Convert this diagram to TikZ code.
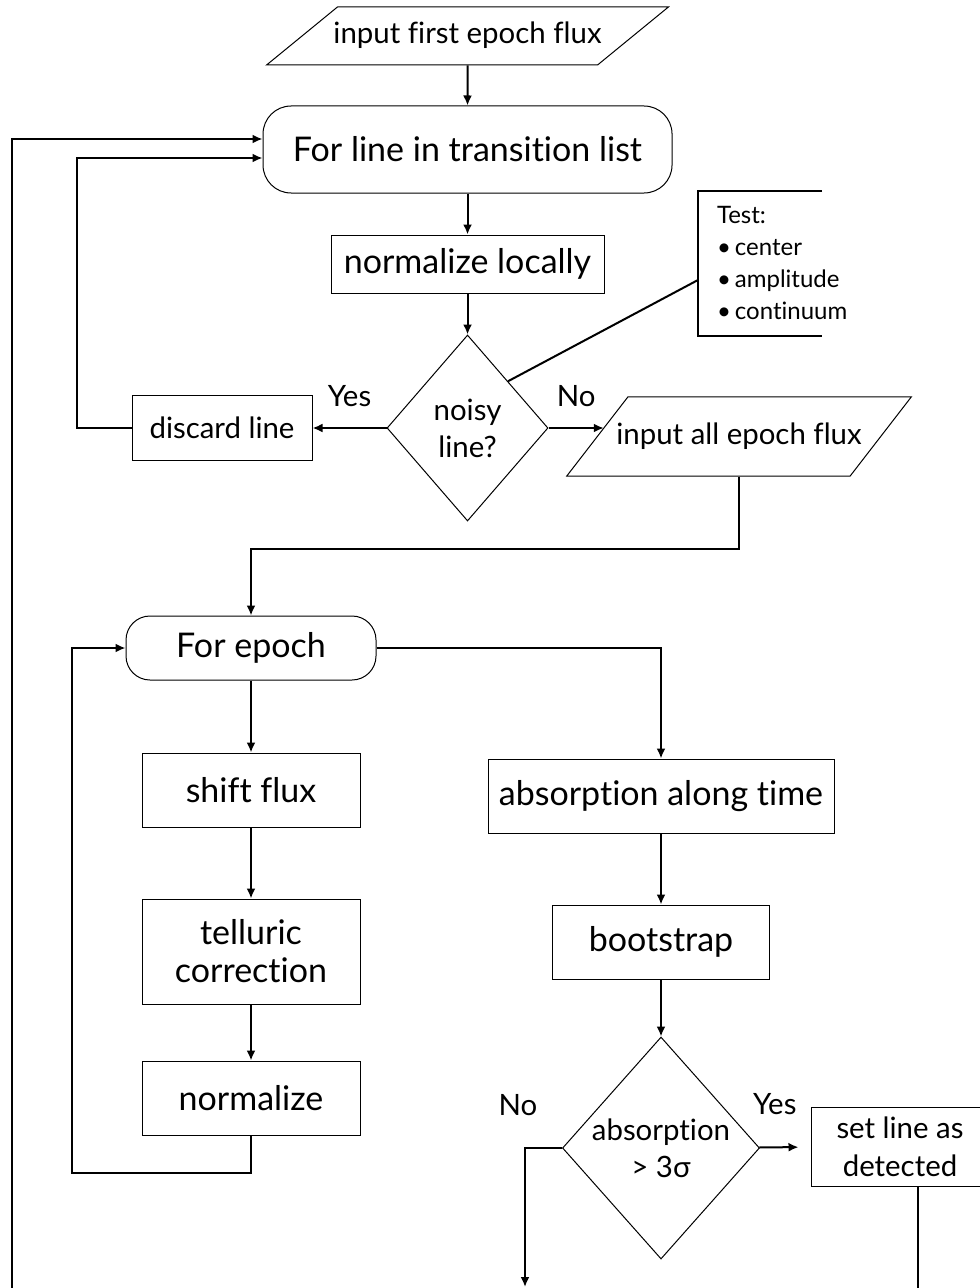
\documentclass[tikz,border=0pt]{standalone}
\usepackage{fontspec}
\setmainfont[Ligatures=NoCommon]{Lato}
\usepackage{tikz}
\usetikzlibrary {shapes.geometric}
\usetikzlibrary {positioning}
\usetikzlibrary {arrows.meta}

\begin{document}
\begin{tikzpicture}[x=0.5pt, y=-0.5pt, line width=1pt, >={Latex[length=5pt,width=4.5pt]},
  box/.style={rectangle, draw, line width=0.5pt, align=center, inner sep=0pt, font=\fontsize{17}{19}\selectfont},
  rbox/.style={box, rounded corners=14pt},
  io/.style={trapezium, draw, line width=0.5pt, trapezium stretches=true, text height=11pt, text depth=3pt, font=\fontsize{14.7}{19}\selectfont},
  decision/.style={diamond, draw, line width=0.5pt, align=center, inner sep=0pt, font=\fontsize{14.7}{18.5}\selectfont},
  lbl/.style={inner sep=0pt, font=\fontsize{14.7}{19}\selectfont}]
\useasboundingbox (0,0) rectangle (979,1288);

%line loop
\node [io, trapezium left angle=39.3, trapezium right angle=140.7, inner xsep=-2pt, inner ysep=7.5pt] (flux1) at (467.5,36) {input first epoch flux};
\node [rbox, minimum width=204.5pt, minimum height=43.5pt] (forline) [below=20pt of flux1] {For line in transition list};
\draw [->] (flux1) to (forline);

\node [box, minimum width=136.5pt, minimum height=29pt] (normloc) [below=20.5pt of forline] {normalize locally};
\draw [->] (forline) to (normloc);

\node [decision, minimum width=80.5pt, minimum height=93pt] (noisy) [below=20.5pt of normloc] {noisy\\line?};
\draw [->] (normloc) to (noisy);

%tests
\node [anchor=west, align=left, text width=43pt, inner xsep=9pt, inner ysep=0pt, minimum height=71.5pt, font=\fontsize{12}{16}\selectfont] (test) at (698,263.5) {Test:\\\textbullet\,center\\\textbullet\,amplitude\\\textbullet\,continuum};
\draw (test.north east) -- (test.north west) -- (test.south west) -- (test.south east);
\draw (noisy.north east) to ([yshift=-8.25pt]test.west);

\node [box, font=\fontsize{14.7}{19}\selectfont, minimum width=90pt, minimum height=32.5pt] (discard) [left=37pt of noisy] {discard line};
\draw [->] (noisy) to node [lbl, yshift=16pt] (yes1) {Yes} (discard);
\draw [->] (discard.west) -- ++(-55,0) |- ([yshift=-4.25pt]forline.west);

\coordinate (outerend) at (12,1292);
\draw [->] (outerend) |- ([yshift=5.25pt]forline.west);

\node [io, trapezium left angle=52.3, trapezium right angle=127.7, inner xsep=-5.75pt, inner ysep=12.75pt] (flux2) at (739,436.5) {input all epoch flux};
\draw [->] (noisy.east) to node [lbl, yshift=16pt] (no1) {No} ([xshift=19pt]flux2.bottom left corner |- noisy.east);

%epoch loop
\node [rbox, rounded corners=12pt, minimum width=125pt, minimum height=32pt] (forepoch) at (251,648) {For epoch};
\draw [->] (flux2.south) -- ++(0,72) -| (forepoch.north);

\node [box, minimum width=109pt, minimum height=37pt] (shift) [below=36pt of forepoch] {shift flux};
\draw [->] (forepoch) to (shift);

\node [box, minimum width=109pt, minimum height=52.5pt] (tell) [below=35.5pt of shift] {telluric\\correction};
\draw [->] (shift) to (tell);

\node [box, minimum width=109pt, minimum height=37pt] (normal) [below=28pt of tell] {normalize};
\draw [->] (tell) to (normal);
\draw [->] (normal.south) -- ++(0,37) -| ([xshift=-27pt]forepoch.west) -- (forepoch.west);

%detection
\node [box, minimum width=173pt, minimum height=37pt] (absorb) at (661,796) {absorption along time};
\draw [->] (forepoch.east) -| (absorb.north);

\node [box, minimum width=108.5pt, minimum height=37pt] (boot) [below=35.5pt of absorb] {bootstrap};
\draw [->] (absorb) to (boot);

\node [decision, minimum width=95pt, minimum height=111pt] (sig) [below=28.5pt of boot] {absorption\\> 3σ};
\draw [->] (boot) to (sig);

\node [box, font=\fontsize{14.7}{19}\selectfont, minimum width=89pt, minimum height=39.5pt] (detect) at (900,1146.5) {set line as\\detected};
\draw [->, shorten >=6pt] (sig) to node [lbl, pos=0.3, yshift=21.5pt] (yes2) {Yes} (detect);

\coordinate (noend) at (525,1287);
\draw [->] (sig.west) -| node [lbl, pos=0.5, xshift=-3.5pt, yshift=21.5pt] (no2) {No} (noend);

\coordinate (detend) at (918,1292);
\draw (detect.south -| detend) -- (detend);

\end{tikzpicture}
\end{document}
